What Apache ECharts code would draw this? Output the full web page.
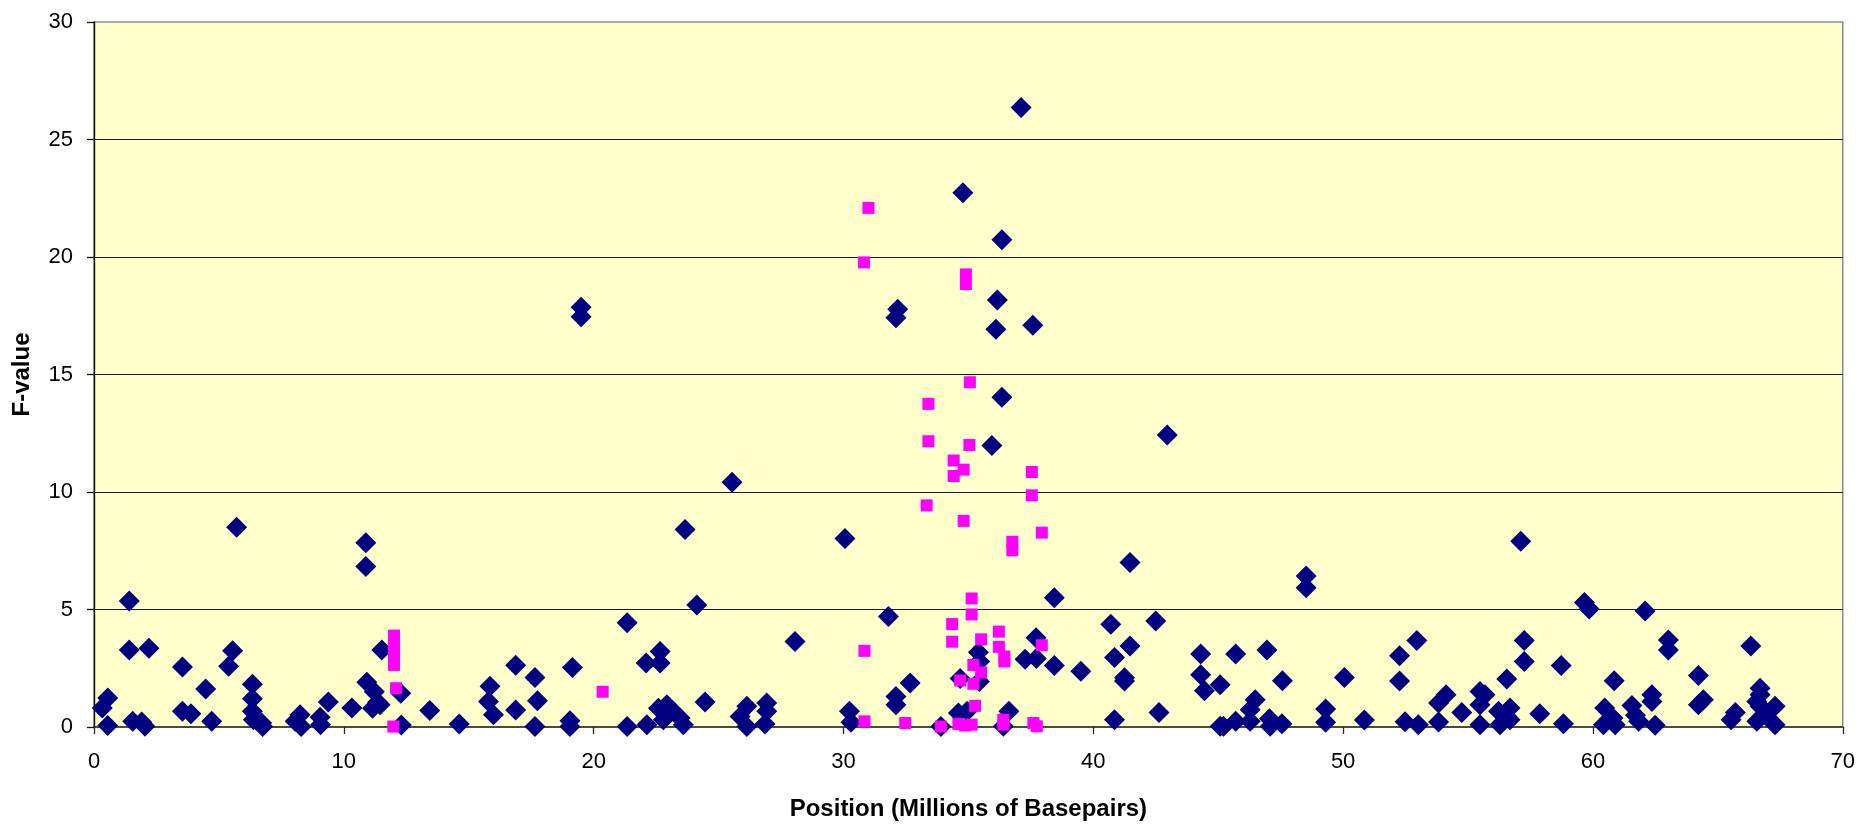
<!DOCTYPE html>
<html>
<head>
<meta charset="utf-8">
<script src="https://cdn.jsdelivr.net/npm/echarts@6/dist/echarts.min.js"></script>
<style>
html,body{margin:0;padding:0;background:#fff;}
#chart{width:1858px;height:826px;}
</style>
</head>
<body>
<div id="chart"></div>
<script>
// Tick settings
const xTicks = [0, 10, 20, 30, 40, 50, 60, 70];
const yTicks = [0, 5, 10, 15, 20, 25, 30];
const xTitle = 'Position (Millions of Basepairs)';
const yTitle = 'F-value';

// Series 1: navy diamonds [position, F-value]
const navyPoints = [
  [0.33,0.81],[0.55,1.23],[0.55,0.06],
  [1.41,5.36],[1.41,3.28],[2.2,3.35],
  [1.55,0.24],[1.91,0.21],[2.04,0.03],
  [3.54,2.55],[3.54,0.67],[3.88,0.56],
  [4.47,1.62],[4.71,0.24],
  [5.39,2.58],[5.55,3.24],[5.71,8.5],
  [6.34,1.82],[6.34,1.2],[6.34,0.67],[6.38,0.31],[6.71,0.17],[6.75,0.02],
  [8.05,0.24],[8.25,0.52],[8.29,0.02],
  [9.05,0.41],[9.07,0.1],[9.38,1.06],
  [10.32,0.81],
  [10.88,7.84],[10.88,6.83],
  [10.92,1.9],[11.22,1.5],[11.35,1.05],[11.15,0.8],[11.45,0.95],
  [11.52,3.28],
  [12.28,1.44],[12.3,0.08],
  [13.44,0.7],[14.62,0.13],
  [15.85,1.73],[15.79,1.09],[15.99,0.52],
  [16.88,2.63],[16.88,0.72],
  [17.65,2.11],[17.75,1.12],[17.65,0.02],
  [19.15,2.53],[19.05,0.27],[19.05,0.02],
  [19.5,17.86],[19.5,17.46],
  [21.34,4.44],[21.34,0.02],
  [22.1,2.72],[22.66,3.21],[22.66,2.72],[22.13,0.1],
  [22.59,0.8],[22.93,0.95],[22.79,0.31],[23.19,0.67],[23.46,0.38],[23.59,0.1],
  [23.66,8.4],[24.13,5.19],[24.46,1.06],[25.54,10.42],
  [25.86,0.45],[26.13,0.88],[26.13,0.02],
  [26.93,1.02],[26.93,0.67],[26.86,0.13],
  [28.06,3.64],
  [30.06,8.02],[30.24,0.67],[30.3,0.2],
  [31.8,4.7],
  [32.17,17.78],[32.1,17.41],
  [32.1,1.3],[32.1,0.95],[32.67,1.87],
  [33.9,0.02],
  [34.67,2.06],[34.78,22.73],[34.6,0.6],[34.95,0.67],
  [35.4,3.18],[35.45,2.79],[35.44,1.94],
  [35.94,11.98],
  [36.16,18.17],[36.1,16.93],[36.34,20.73],[36.34,14.03],
  [36.4,0.03],[36.62,0.67],
  [37.11,26.36],
  [37.27,2.88],[37.72,2.91],[37.58,17.1],[37.71,3.8],
  [38.44,5.5],[38.44,2.62],
  [39.5,2.37],
  [40.7,4.37],[40.85,2.96],[40.85,0.31],
  [41.25,2.1],[41.25,1.96],[41.47,3.45],[41.47,7.0],
  [42.5,4.51],[42.63,0.62],[42.96,12.43],
  [44.3,3.11],[44.3,2.22],[44.45,1.54],[45.08,1.8],
  [45.08,0.03],[45.21,0.03],[45.7,0.24],[45.7,3.11],
  [46.48,1.16],[46.28,0.73],[46.28,0.24],
  [46.95,3.28],[47.05,0.35],[47.08,0.03],[47.55,0.14],[47.57,1.97],
  [48.52,6.43],[48.52,5.93],
  [49.3,0.77],[49.3,0.2],
  [50.05,2.11],[50.85,0.3],
  [52.26,3.03],[52.26,1.96],[52.48,0.22],[52.95,3.68],[53.01,0.1],
  [53.82,1.02],[54.12,1.37],[53.82,0.21],[54.75,0.62],
  [55.48,1.51],[55.48,0.95],[55.48,0.1],[55.68,1.37],
  [56.22,0.67],[56.28,0.1],[56.68,0.81],[56.68,0.31],[56.55,0.45],[56.55,2.04],
  [57.11,7.9],[57.25,3.68],[57.25,2.79],[57.87,0.56],
  [58.73,2.62],[58.82,0.14],
  [59.66,5.3],[59.85,5.02],
  [60.47,0.81],[60.8,0.38],[60.42,0.1],[60.89,0.1],[60.85,1.97],
  [61.56,0.92],[61.83,0.24],[61.7,0.5],
  [62.09,4.94],[62.36,1.37],[62.36,1.09],[62.49,0.07],
  [63.02,3.7],[63.02,3.28],
  [64.22,2.19],[64.22,0.95],[64.42,1.16],
  [65.53,0.31],[65.7,0.62],
  [66.32,3.45],
  [66.69,1.65],[66.69,1.37],[66.56,1.09],[66.69,0.88],
  [66.56,0.24],[66.89,0.52],[67.29,0.88],[67.29,0.1]
];

// Series 2: magenta squares [position, F-value]
const magentaPoints = [
  [12.01,3.89],[12.01,3.55],[12.01,3.2],[12.01,2.9],[12.01,2.64],[12.09,1.65],[11.98,0.02],
  [20.36,1.5],
  [31.0,22.09],[30.82,19.77],[30.84,3.24],[30.84,0.24],
  [32.47,0.17],
  [33.4,13.75],[33.4,12.16],[33.33,9.43],
  [33.9,0.02],
  [34.35,4.38],[34.35,3.63],
  [34.41,11.34],[34.41,10.68],[34.81,10.95],[34.81,8.77],
  [34.67,1.98],[34.6,0.13],[34.87,0.06],
  [34.9,19.26],[34.9,18.85],
  [35.06,14.67],[35.04,12.0],
  [35.13,5.47],[35.13,4.79],
  [35.2,2.64],[35.2,1.84],[35.27,0.9],[35.13,0.1],
  [35.51,3.73],[35.51,2.32],
  [36.22,4.06],[36.22,3.41],[36.44,3.0],[36.44,2.79],
  [36.4,0.31],[36.4,0.1],
  [36.76,7.88],[36.76,7.52],
  [37.54,10.85],[37.54,9.86],
  [37.6,0.17],[37.74,0.03],
  [37.94,8.27],[37.94,3.48]
];

const FONT = "'Liberation Sans', Arial, sans-serif";
const chart = echarts.init(document.getElementById('chart'), null, {renderer: 'canvas'});
chart.setOption({
  animation: false,
  backgroundColor: '#ffffff',
  grid: {
    left: 94, top: 22, width: 1749, height: 707,
    show: true, backgroundColor: '#FFFFCC', borderColor: '#8c8c8c', borderWidth: 1.5,
    containLabel: false
  },
  xAxis: {
    type: 'value',
    min: xTicks[0], max: xTicks[xTicks.length - 1], interval: xTicks[1] - xTicks[0],
    name: xTitle, nameLocation: 'middle', nameGap: 70,
    nameTextStyle: {fontFamily: FONT, fontSize: 24, fontWeight: 'bold', color: '#000'},
    axisLine: {show: true, onZero: false, lineStyle: {color: '#2a2a2a', width: 1.6}},
    axisTick: {show: true, inside: false, length: 7, lineStyle: {color: '#2a2a2a', width: 1.3}},
    axisLabel: {fontFamily: FONT, fontSize: 22, color: '#000', margin: 24},
    splitLine: {show: false}
  },
  yAxis: {
    type: 'value',
    min: yTicks[0], max: yTicks[yTicks.length - 1], interval: yTicks[1] - yTicks[0],
    name: yTitle, nameLocation: 'middle', nameGap: 60, nameRotate: 90,
    nameTextStyle: {fontFamily: FONT, fontSize: 24, fontWeight: 'bold', color: '#000'},
    axisLine: {show: true, onZero: false, lineStyle: {color: '#111', width: 1.4}},
    axisTick: {show: true, inside: false, length: 7, lineStyle: {color: '#111', width: 1.3}},
    axisLabel: {fontFamily: FONT, fontSize: 22, color: '#000', margin: 21},
    splitLine: {show: true, showMinLine: false, showMaxLine: false, lineStyle: {color: '#1a1a1a', width: 1.2}}
  },
  series: [
    {
      type: 'scatter', name: 'navy', data: navyPoints,
      symbol: 'diamond', symbolSize: 21,
      itemStyle: {color: '#000080', opacity: 1},
      z: 2
    },
    {
      type: 'scatter', name: 'magenta', data: magentaPoints,
      symbol: 'rect', symbolSize: 12,
      itemStyle: {color: '#FF00FF', opacity: 1},
      z: 3
    }
  ]
});
</script>
</body>
</html>
